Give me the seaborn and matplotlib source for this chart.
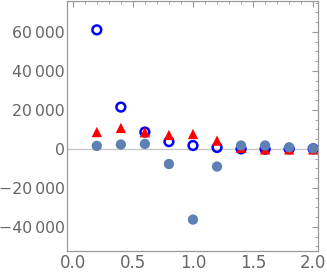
import numpy as np
import pandas as pd
import matplotlib
matplotlib.use("Agg")
import matplotlib.pyplot as plt
import seaborn as sns
from matplotlib.ticker import MultipleLocator, FuncFormatter

x_vals = [0.2, 0.4, 0.6, 0.8, 1.0, 1.2, 1.4, 1.6, 1.8, 2.0]
open_blue = [61000, 21400, 8600, 3700, 1700, 700, 0, -200, 0, 0]
red_tri = [8600, 10700, 8500, 7100, 7600, 4200, 500, -300, -300, -300]
filled = [1500, 2200, 2500, -7800, -36300, -9100, 1700, 1700, 800, 200]

sns.set_theme(style="white")
plt.rcParams['font.family'] = ['DejaVu Sans']

fig = plt.figure(figsize=(3.27, 2.76), dpi=100)
ax = fig.add_axes([0.206, 0.0906, 0.7665, 0.9058])

ax.axhline(0, color="#c8c8c8", lw=1, zorder=1)

df = pd.DataFrame({"x": x_vals, "a": open_blue, "b": red_tri, "c": filled})
sns.scatterplot(data=df, x="x", y="a", ax=ax, marker="o", s=40,
                facecolor="none", edgecolor="#0000ff", linewidth=1.8, zorder=3)
sns.scatterplot(data=df, x="x", y="b", ax=ax, marker="^", s=55,
                color="#ff0000", edgecolor="none", linewidth=0, zorder=4)
sns.scatterplot(data=df, x="x", y="c", ax=ax, marker="o", s=55,
                color="#5e81b5", edgecolor="none", linewidth=0, zorder=5)

ax.set_xlim(-0.045, 2.04)
ax.set_ylim(-52400, 75800)
ax.set_xlabel("")
ax.set_ylabel("")

ax.xaxis.set_major_locator(MultipleLocator(0.5))
ax.xaxis.set_minor_locator(MultipleLocator(0.1))
ax.yaxis.set_major_locator(MultipleLocator(20000))
ax.yaxis.set_minor_locator(MultipleLocator(5000))

def yfmt(v, pos):
    v = int(round(v))
    s = f"{abs(v):,}".replace(",", "\u2009")
    return ("\u2212" + s) if v < 0 else s

ax.yaxis.set_major_formatter(FuncFormatter(yfmt))
ax.xaxis.set_major_formatter(FuncFormatter(lambda v, p: f"{v:.1f}"))

for sp in ax.spines.values():
    sp.set_visible(True)
    sp.set_color("#999999")
    sp.set_linewidth(0.9)

ax.tick_params(which="both", direction="in", top=True, right=True,
               color="#999999", labelcolor="#666666")
ax.tick_params(axis="x", labelsize=12)
ax.tick_params(axis="y", labelsize=11.3)
ax.tick_params(which="major", length=4, width=0.8, pad=2)
ax.tick_params(which="minor", length=2, width=0.6)

fig.savefig("out.png", dpi=100)
